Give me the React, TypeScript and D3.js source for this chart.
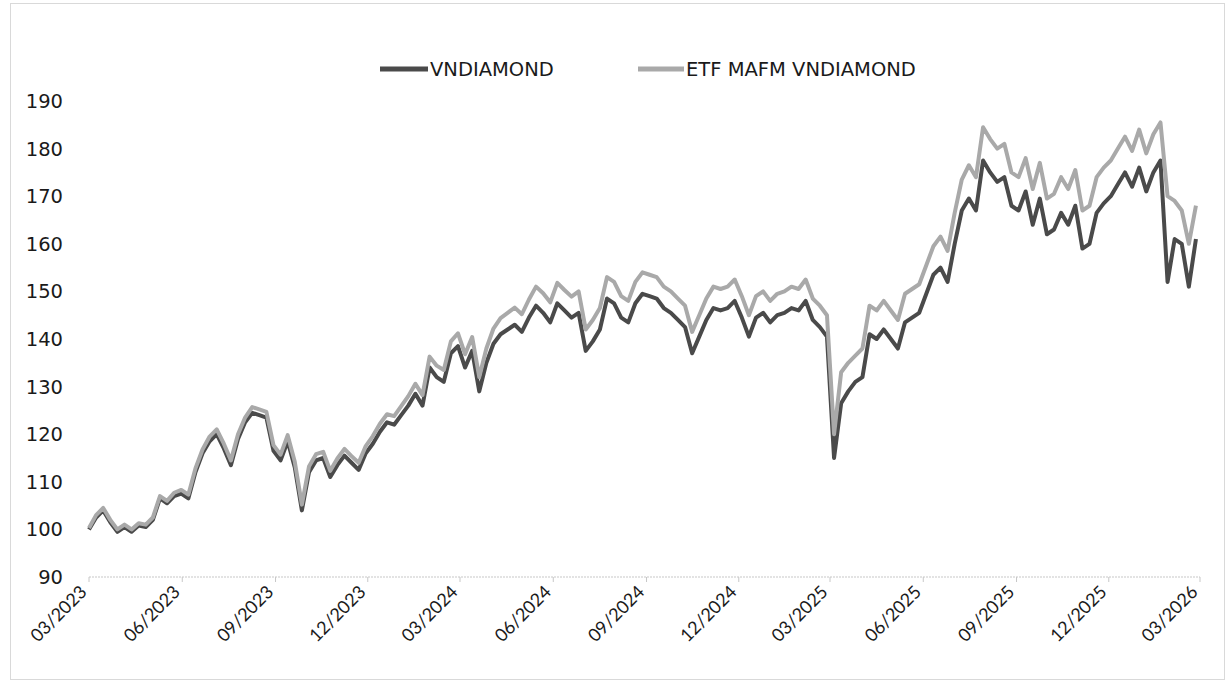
import React from 'react'
import * as d3 from 'd3'

// weekly closes (index base 100 at 03/2023)
const startDate = new Date(2023, 2, 1)
const endDate = new Date(2026, 2, 1)

const vnValues = [
  100, 102.5, 104, 101.5, 99.5, 100.5, 99.5, 100.8, 100.5, 102,
  106.5, 105.5, 107, 107.5, 106.5, 112, 116, 118.5, 120, 117,
  113.5, 119, 122.5, 124.5, 124, 123.5, 116.5, 114.5, 118.5, 113,
  104, 112, 114.5, 115, 111, 113.5, 115.5, 114, 112.5, 116,
  118, 120.5, 122.5, 122, 124, 126, 128.5, 126, 134, 132,
  131, 137, 138.5, 134, 137.5, 129, 135, 139, 141, 142,
  143, 141.5, 144.5, 147, 145.5, 143.5, 147.5, 146, 144.5, 145.5,
  137.5, 139.5, 142, 148.5, 147.5, 144.5, 143.5, 147.5, 149.5, 149,
  148.5, 146.5, 145.5, 144, 142.5, 137, 140.5, 144, 146.5, 146,
  146.5, 148, 144.5, 140.5, 144.5, 145.5, 143.5, 145, 145.5, 146.5,
  146, 148, 144, 142.5, 140.5, 115, 126.5, 129, 131, 132,
  141, 140, 142, 140, 138, 143.5, 144.5, 145.5, 149.5, 153.5,
  155, 152, 160, 167, 169.5, 167, 177.5, 175, 173, 174,
  168, 167, 171, 164, 169.5, 162, 163, 166.5, 164, 168,
  159, 160, 166.5, 168.5, 170, 172.5, 175, 172, 176, 171,
  175, 177.5, 152, 161, 160, 151, 161,
]

const etfValues = [
  100.3, 103, 104.5, 102, 100, 101, 100, 101.3, 101, 102.5,
  107, 106, 107.7, 108.3, 107.3, 112.8, 116.8, 119.5, 121, 118,
  114.5, 120, 123.5, 125.7, 125.2, 124.7, 117.7, 115.7, 119.8, 114.2,
  105.2, 113.2, 115.8, 116.3, 112.3, 114.9, 116.9, 115.4, 114, 117.5,
  119.6, 122.2, 124.2, 123.8, 125.9, 128, 130.6, 128.2, 136.3, 134.4,
  133.5, 139.5, 141.2, 136.8, 140.4, 132, 138, 142.2, 144.4, 145.5,
  146.6, 145.2, 148.3, 151, 149.6, 147.7, 151.8, 150.3, 148.9, 150,
  142, 144, 146.5, 153, 152, 149, 148, 152, 154, 153.5,
  153, 151, 150, 148.5, 147, 141.5, 145, 148.5, 151, 150.5,
  151, 152.5, 149, 145, 149, 150, 148, 149.5, 150, 151,
  150.5, 152.5, 148.5, 147, 145, 120, 133, 135, 136.5, 138,
  147, 146, 148, 146, 144, 149.5, 150.5, 151.5, 155.5, 159.5,
  161.5, 158.5, 166.5, 173.5, 176.5, 174, 184.5, 182, 180, 181,
  175, 174, 178, 171.5, 177, 169.5, 170.5, 174, 171.5, 175.5,
  167, 168, 174, 176, 177.5, 180, 182.5, 179.5, 184, 179,
  183, 185.5, 170, 169, 167, 160, 168,
]

const yTicks = [90, 100, 110, 120, 130, 140, 150, 160, 170, 180, 190]
const seriesNames = ['VNDIAMOND', 'ETF MAFM VNDIAMOND']

const W = 1229
const H = 682
const plot = { left: 89, right: 1200, top: 101, bottom: 577 }

export default function App() {
  const x = d3.scaleTime().domain([startDate, endDate]).range([plot.left, plot.right])
  const y = d3.scaleLinear().domain([90, 190]).range([plot.bottom, plot.top])

  const dates = vnValues.map((_, i) => d3.timeDay.offset(startDate, i * 7))
  const line = d3.line<number>()
    .x((_, i) => x(dates[i]))
    .y(d => y(d))

  // quarterly ticks starting at March: 03, 06, 09, 12
  const xTicks = d3.timeMonth.range(startDate, d3.timeDay.offset(endDate, 1), 3)
  const fmt = d3.timeFormat('%m/%Y')
  const colors = ['#4a4a4a', '#a9a9a9']

  return (
    <svg width={W} height={H} style={{ position: 'absolute', left: 0, top: 0, background: '#fff' }}>
      <rect x={10.5} y={3.5} width={1214} height={676} fill="#fff" stroke="#d9d9d9" />

      {/* legend */}
      <g fontFamily="DejaVu Sans" fontSize={19.5} fill="#1a1a1a">
        <line x1={380} x2={428} y1={69} y2={69} stroke={colors[0]} strokeWidth={5} />
        <text x={430} y={76}>{seriesNames[0]}</text>
        <line x1={638} x2={684} y1={69} y2={69} stroke={colors[1]} strokeWidth={5} />
        <text x={686} y={76}>{seriesNames[1]}</text>
      </g>

      {/* y axis labels */}
      <g fontFamily="DejaVu Sans" fontSize={19.5} fill="#1a1a1a" textAnchor="end">
        {yTicks.map(t => (
          <text key={t} x={63} y={y(t) + 7}>{t}</text>
        ))}
      </g>

      {/* x axis */}
      <line x1={plot.left} x2={plot.right} y1={plot.bottom} y2={plot.bottom}
        stroke="#c8c8c8" strokeWidth={1.2} strokeDasharray="2,1" />
      {xTicks.map(t => (
        <line key={+t} x1={x(t)} x2={x(t)} y1={plot.bottom} y2={plot.bottom + 5} stroke="#c8c8c8" />
      ))}
      <g fontFamily="Lato" fontSize={18} fill="#1a1a1a" textAnchor="end">
        {xTicks.map(t => (
          <text key={+t} transform={`translate(${x(t) - 1},${plot.bottom + 16}) rotate(-45)`}>
            {fmt(t)}
          </text>
        ))}
      </g>

      {/* series */}
      <path d={line(vnValues)!} fill="none" stroke={colors[0]} strokeWidth={4} strokeLinejoin="round" />
      <path d={line(etfValues)!} fill="none" stroke={colors[1]} strokeWidth={4} strokeLinejoin="round" />
    </svg>
  )
}
